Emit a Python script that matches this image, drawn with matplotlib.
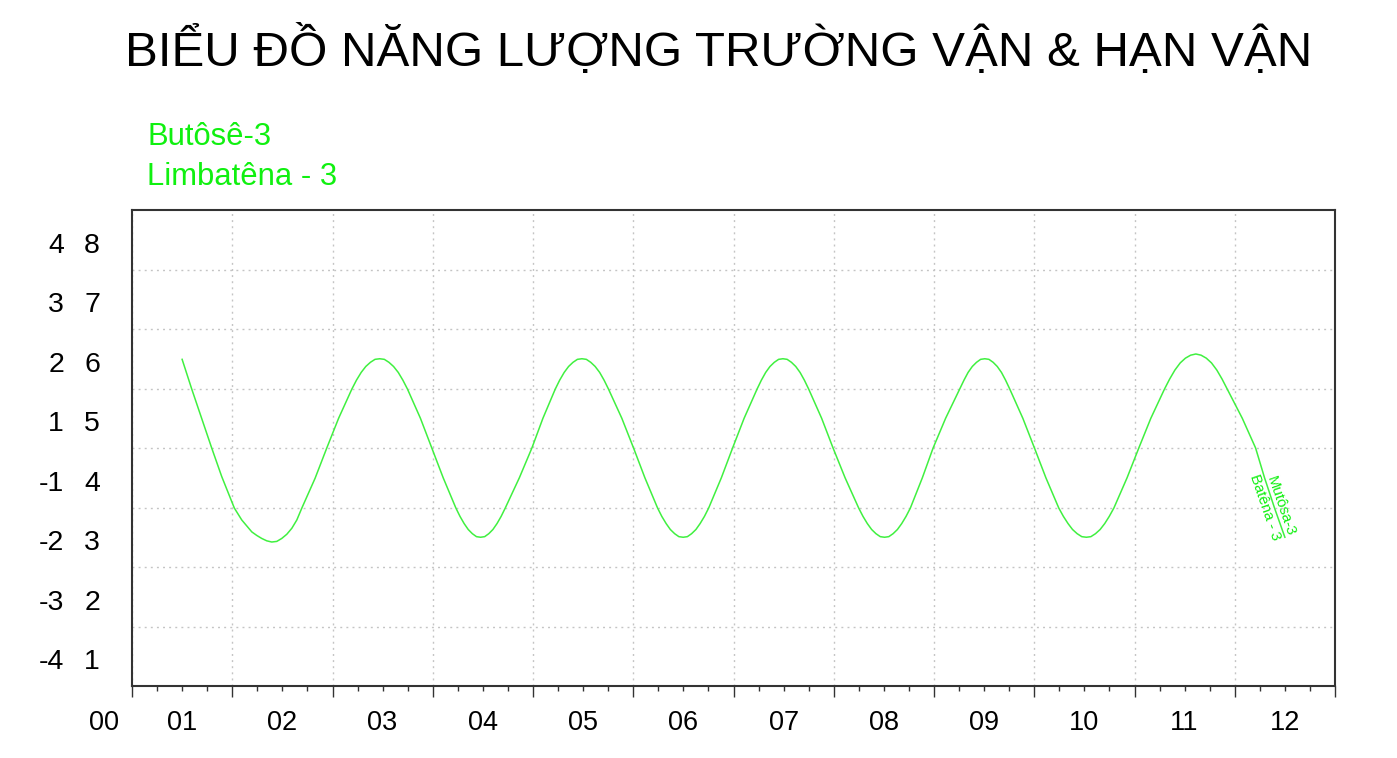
import matplotlib
matplotlib.use("Agg")
import matplotlib.pyplot as plt
import matplotlib.transforms as mtransforms
import numpy as np

plt.rcParams['font.family'] = ['Liberation Sans', 'DejaVu Sans']

# ---- data ----
title = "BIỂU ĐỒ NĂNG LƯỢNG TRƯỜNG VẬN & HẠN VẬN"
legend_lines = ["Butôsê-3", "Limbatêna - 3"]
end_label_upper = "Mutôsa-3"
end_label_lower = "Batêna - 3"

x_labels = ["00", "01", "02", "03", "04", "05", "06", "07", "08", "09", "10", "11", "12"]
y_labels = ["-4 1", "-3 2", "-2 3", "-1 4", "1 5", "2 6", "3 7", "4 8"]

curve_x = [0.50, 0.596, 0.695, 0.795, 0.895, 1.021, 1.095, 1.195, 1.245, 1.294, 1.344, 1.394, 1.444, 1.494, 1.544,
           1.594, 1.644, 1.694, 1.826, 1.943, 2.061, 2.193,
           2.239, 2.286, 2.332, 2.378, 2.424, 2.471, 2.517, 2.563, 2.609, 2.656, 2.702,
           2.748, 2.877, 2.991, 3.104, 3.231,
           3.272, 3.313, 3.354, 3.395, 3.436, 3.477, 3.518, 3.559, 3.600, 3.641, 3.682,
           3.723, 3.864, 3.989, 4.099, 4.222,
           4.266, 4.311, 4.355, 4.399, 4.443, 4.488, 4.532, 4.576, 4.620, 4.665, 4.709,
           4.753, 4.886, 5.003, 5.116, 5.243,
           5.285, 5.328, 5.370, 5.413, 5.455, 5.498, 5.540, 5.582, 5.625, 5.667, 5.710,
           5.752, 5.879, 5.991, 6.106, 6.235,
           6.278, 6.321, 6.364, 6.407, 6.450, 6.493, 6.535, 6.578, 6.621, 6.664, 6.707,
           6.750, 6.879, 6.993, 7.113, 7.249,
           7.292, 7.335, 7.378, 7.421, 7.464, 7.507, 7.549, 7.592, 7.635, 7.678, 7.721,
           7.764, 7.884, 7.991, 8.116, 8.257,
           8.299, 8.340, 8.382, 8.424, 8.465, 8.507, 8.548, 8.590, 8.631, 8.673, 8.714,
           8.756, 8.886, 9.002, 9.116, 9.245,
           9.291, 9.337, 9.382, 9.428, 9.474, 9.520, 9.565, 9.611, 9.657, 9.703, 9.748,
           9.794, 9.926, 10.043, 10.163, 10.299,
           10.351, 10.403, 10.456, 10.508, 10.560, 10.612, 10.664, 10.716, 10.768, 10.821, 10.873,
           10.925, 11.075, 11.208, 11.297, 11.397, 11.50]
curve_y = [5.49, 4.99, 4.50, 4.00, 3.52, 2.99, 2.79, 2.59, 2.53, 2.48, 2.44, 2.42, 2.43, 2.48, 2.55,
           2.65, 2.79, 2.99, 3.49, 4.00, 4.50, 4.99,
           5.14, 5.27, 5.37, 5.44, 5.49, 5.50, 5.49, 5.44, 5.37, 5.27, 5.14,
           4.99, 4.50, 4.00, 3.50, 2.99,
           2.85, 2.73, 2.63, 2.56, 2.51, 2.50, 2.51, 2.56, 2.63, 2.73, 2.85,
           2.99, 3.50, 4.00, 4.50, 4.99,
           5.14, 5.27, 5.37, 5.44, 5.49, 5.50, 5.49, 5.44, 5.37, 5.27, 5.14,
           4.99, 4.50, 4.00, 3.50, 2.99,
           2.85, 2.73, 2.63, 2.56, 2.51, 2.50, 2.51, 2.56, 2.63, 2.73, 2.85,
           2.99, 3.50, 4.00, 4.50, 4.99,
           5.14, 5.27, 5.37, 5.44, 5.49, 5.50, 5.49, 5.44, 5.37, 5.27, 5.14,
           4.99, 4.50, 4.00, 3.50, 2.99,
           2.85, 2.73, 2.63, 2.56, 2.51, 2.50, 2.51, 2.56, 2.63, 2.73, 2.85,
           2.99, 3.50, 4.00, 4.50, 4.99,
           5.14, 5.27, 5.37, 5.44, 5.49, 5.50, 5.49, 5.44, 5.37, 5.27, 5.14,
           4.99, 4.50, 4.00, 3.50, 2.99,
           2.85, 2.73, 2.63, 2.56, 2.51, 2.50, 2.51, 2.56, 2.63, 2.73, 2.85,
           2.99, 3.50, 4.00, 4.50, 4.99,
           5.16, 5.31, 5.43, 5.51, 5.56, 5.58, 5.56, 5.51, 5.43, 5.31, 5.16,
           4.99, 4.50, 4.00, 3.50, 2.99, 2.50]

# ---- figure ----
W, H = 1397, 758
fig = plt.figure(figsize=(W / 100, H / 100), dpi=100)
ax = fig.add_axes([132 / W, 72 / H, 1203 / W, 476 / H])

green_line = '#40f040'
green_text = '#10f010'
frame = '#333333'

ax.plot(curve_x, curve_y, color=green_line, lw=1.1, solid_joinstyle='round', antialiased=True)

ax.set_xlim(0, 12)
ax.set_ylim(0, 8)

# x ticks
ax.set_xticks(np.arange(0, 13))
ax.set_xticks(np.arange(0, 12.01, 0.25), minor=True)
ax.tick_params(axis='x', which='major', length=8, width=1.0, color=frame, labelbottom=False, direction='out')
ax.tick_params(axis='x', which='minor', length=3.6, width=1.0, color=frame, direction='out')

# y: grid on integer lines, labels drawn in two columns inside each band
ax.set_yticks([])
ax.set_yticks(np.arange(1, 8), minor=True)
ax.tick_params(axis='y', which='both', length=0, labelleft=False)

ax.grid(False)
ax.xaxis.grid(True, which='major', color='#c4c4c4', linestyle=(0, (1.4, 3.0)), lw=1.0)
ax.yaxis.grid(True, which='minor', color='#c4c4c4', linestyle=(0, (1.4, 3.0)), lw=1.0)
ax.set_axisbelow(True)

for s in ax.spines.values():
    s.set_color(frame)
    s.set_linewidth(1.5)

ytrans = mtransforms.blended_transform_factory(ax.transAxes, ax.transData)
for k, lab in enumerate(y_labels):
    left, right = lab.split(" ")
    ypos = k + 0.45
    ax.text((64 - 132) / 1203, ypos, left, transform=ytrans, ha='right', va='center_baseline',
            fontsize=20.5, color='black', clip_on=False)
    ax.text((100 - 132) / 1203, ypos, right, transform=ytrans, ha='right', va='center_baseline',
            fontsize=20.5, color='black', clip_on=False)

# x labels centred between the major ticks, plus "00" left of the axis
xtrans = mtransforms.blended_transform_factory(ax.transData, ax.transAxes)
label_pos = [-0.28] + [k + 0.5 for k in range(12)]
for pos, lab in zip(label_pos, x_labels):
    ax.text(pos, -44 / 476, lab, transform=xtrans, ha='center', va='baseline',
            fontsize=19.5, color='black', clip_on=False)

# end-of-curve labels along the last segment
x0, y0 = curve_x[-1], curve_y[-1]
ang = -71
u = np.array([np.sin(np.radians(-ang)), np.cos(np.radians(-ang))])
ax.annotate(end_label_upper, xy=(x0, y0), xytext=(u[0] * 1.5, u[1] * 1.5),
            textcoords='offset points', rotation=ang, rotation_mode='anchor',
            ha='right', va='baseline', fontsize=10.8, color=green_text, annotation_clip=False)
ax.annotate(end_label_lower, xy=(x0, y0), xytext=(-u[0] * 1.5, -u[1] * 1.5),
            textcoords='offset points', rotation=ang, rotation_mode='anchor',
            ha='right', va='top', fontsize=10.8, color=green_text, annotation_clip=False)

# title and legend text
fig.text(718.5 / W, 1 - 66 / H, title, ha='center', va='baseline', fontsize=35.5, color='black')
fig.text(147 / W, 1 - 145 / H, legend_lines[0], ha='left', va='baseline', fontsize=22.3, color=green_text)
fig.text(147 / W, 1 - 185 / H, legend_lines[1], ha='left', va='baseline', fontsize=22.3, color=green_text)

fig.savefig('out.png', dpi=100)
